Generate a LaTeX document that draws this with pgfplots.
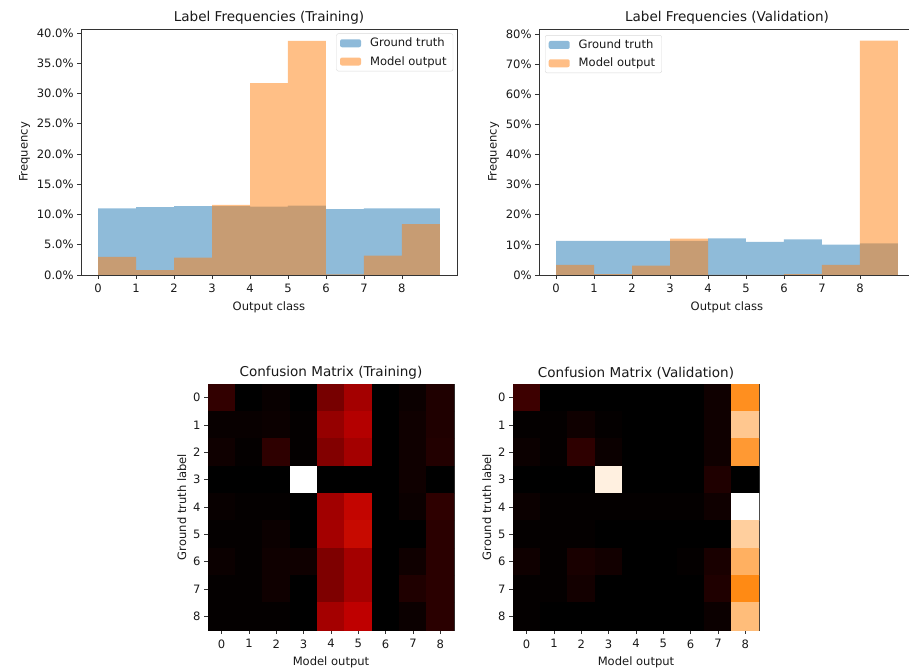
\documentclass[border=0pt]{standalone}
\usepackage{pgfplots}
\pgfplotsset{compat=1.18}
\usepackage{fontspec}
\setmainfont{DejaVu Sans}
\definecolor{cblue}{RGB}{31,119,180}
\definecolor{corange}{RGB}{255,127,14}
\newcommand{\smallfont}{\fontsize{11.6}{13}\selectfont}
\newcommand{\titlefont}{\fontsize{13.6}{15}\selectfont}
\pgfplotsset{
  colormap={gistheat}{rgb(0bp)=(0,0,0); rgb(6bp)=(0.75,0,0); rgb(8bp)=(1,0.3333,0); rgb(9bp)=(1,0.5,0); rgb(12bp)=(1,1,1)},
  mpl/.style={
    scale only axis,
    /pgf/number format/assume math mode=true,
    tick align=outside,
    major tick length=3.9bp,
    tick style={black!80, line width=0.8bp},
    axis line style={black!80, line width=0.8bp},
    xtick pos=bottom, ytick pos=left,
    ticklabel style={font=\smallfont, text=black!90},
    xticklabel style={yshift=-2bp},
    label style={font=\smallfont, text=black!90},
    xlabel style={yshift=-1.5bp},
    title style={font=\titlefont, text=black!90, yshift=-5bp},
    legend style={font=\smallfont, text=black!90, draw=black!15, rounded corners=2bp,
      inner xsep=3.5bp, inner ysep=3.5bp, row sep=6bp,
      nodes={inner xsep=3bp, inner ysep=1bp},
      /tikz/every odd column/.append style={column sep=6bp}},
    legend cell align=left,
    legend image code/.code={\fill[##1] (0bp,-4bp) rectangle (21bp,4bp);},
  },
}
\begin{document}
\begin{tikzpicture}
\path[use as bounding box] (0,0) rectangle (909bp,671bp);
\clip (0,0) rectangle (909bp,671bp);

% ---------- Training histogram ----------
\begin{axis}[mpl, at={(81bp,396bp)}, anchor=south west, width=376bp, height=246bp,
  xmin=-0.45, xmax=9.45, ymin=0, ymax=40.65,
  xtick={0,...,8}, ytick={0,5,...,40},
  yticklabels={0.0\%,5.0\%,10.0\%,15.0\%,20.0\%,25.0\%,30.0\%,35.0\%,40.0\%},
  title={Label Frequencies (Training)}, xlabel={Output class}, ylabel={Frequency},
  legend style={at={(0.99,0.982)}, anchor=north east}]
\addplot[ybar interval, fill=cblue, fill opacity=0.5, draw=none] coordinates {
 (0,11.0) (1,11.2) (2,11.4) (3,11.4) (4,11.3) (5,11.45) (6,10.9) (7,11.0) (8,11.0) (9,11.0)};
\addlegendentry{Ground truth}
\addplot[ybar interval, fill=corange, fill opacity=0.5, draw=none] coordinates {
 (0,3.0) (1,0.8) (2,2.85) (3,11.6) (4,31.7) (5,38.7) (6,0.1) (7,3.2) (8,8.4) (9,8.4)};
\addlegendentry{Model output}
\end{axis}

% ---------- Validation histogram ----------
\begin{axis}[mpl, at={(539bp,396bp)}, anchor=south west, width=376bp, height=246bp,
  xmin=-0.45, xmax=9.45, ymin=0, ymax=81.7,
  xtick={0,...,8}, ytick={0,10,...,80},
  yticklabels={0\%,10\%,20\%,30\%,40\%,50\%,60\%,70\%,80\%},
  title={Label Frequencies (Validation)}, xlabel={Output class}, ylabel={Frequency},
  legend style={at={(0.016,0.975)}, anchor=north west}]
\addplot[ybar interval, fill=cblue, fill opacity=0.5, draw=none] coordinates {
 (0,11.3) (1,11.3) (2,11.3) (3,11.3) (4,12.2) (5,11.0) (6,11.8) (7,10.1) (8,10.5) (9,10.5)};
\addlegendentry{Ground truth}
\addplot[ybar interval, fill=corange, fill opacity=0.5, draw=none] coordinates {
 (0,3.4) (1,0.3) (2,3.1) (3,12.1) (4,0) (5,0) (6,0.3) (7,3.4) (8,77.8) (9,77.8)};
\addlegendentry{Model output}
\end{axis}

% ---------- Confusion matrix (Training) ----------
\begin{axis}[mpl, at={(208bp,41bp)}, anchor=south west, width=246bp, height=246bp,
  enlargelimits=false, xmin=-0.5, xmax=8.5, ymin=-0.5, ymax=8.5, y dir=reverse,
  xtick={0,...,8}, ytick={0,...,8},
  colormap name=gistheat, point meta min=0, point meta max=1,
  title={Confusion Matrix (Training)}, xlabel={Model output}, ylabel={Ground truth label}]
\addplot[matrix plot*, mesh/cols=9, point meta=explicit, draw=none] table[meta=c] {
x y c
0 0 0.13
1 0 0.00
2 0 0.02
3 0 0.00
4 0 0.31
5 0 0.43
6 0 0.00
7 0 0.03
8 0 0.08
0 1 0.02
1 1 0.02
2 1 0.03
3 1 0.01
4 1 0.39
5 1 0.47
6 1 0.00
7 1 0.04
8 1 0.08
0 2 0.04
1 2 0.01
2 2 0.12
3 2 0.01
4 2 0.34
5 2 0.43
6 2 0.00
7 2 0.04
8 2 0.09
0 3 0.00
1 3 0.00
2 3 0.00
3 3 1.00
4 3 0.00
5 3 0.00
6 3 0.00
7 3 0.04
8 3 0.00
0 4 0.02
1 4 0.01
2 4 0.01
3 4 0.00
4 4 0.42
5 4 0.51
6 4 0.00
7 4 0.03
8 4 0.12
0 5 0.01
1 5 0.01
2 5 0.03
3 5 0.00
4 5 0.43
5 5 0.52
6 5 0.00
7 5 0.00
8 5 0.11
0 6 0.03
1 6 0.01
2 6 0.04
3 6 0.04
4 6 0.33
5 6 0.43
6 6 0.00
7 6 0.04
8 6 0.11
0 7 0.01
1 7 0.01
2 7 0.04
3 7 0.00
4 7 0.33
5 7 0.43
6 7 0.00
7 7 0.08
8 7 0.11
0 8 0.01
1 8 0.01
2 8 0.01
3 8 0.00
4 8 0.43
5 8 0.50
6 8 0.00
7 8 0.03
8 8 0.11
};
\end{axis}

% ---------- Confusion matrix (Validation) ----------
\begin{axis}[mpl, at={(513bp,41bp)}, anchor=south west, width=246bp, height=246bp,
  enlargelimits=false, xmin=-0.5, xmax=8.5, ymin=-0.5, ymax=8.5, y dir=reverse,
  xtick={0,...,8}, ytick={0,...,8},
  colormap name=gistheat, point meta min=0, point meta max=1,
  title={Confusion Matrix (Validation)}, xlabel={Model output}, ylabel={Ground truth label}]
\addplot[matrix plot*, mesh/cols=9, point meta=explicit, draw=none] table[meta=c] {
x y c
0 0 0.16
1 0 0.00
2 0 0.00
3 0 0.00
4 0 0.00
5 0 0.00
6 0 0.00
7 0 0.04
8 0 0.78
0 1 0.01
1 1 0.01
2 1 0.04
3 1 0.01
4 1 0.00
5 1 0.00
6 1 0.00
7 1 0.04
8 1 0.89
0 2 0.03
1 2 0.01
2 2 0.12
3 2 0.03
4 2 0.00
5 2 0.00
6 2 0.00
7 2 0.04
8 2 0.80
0 3 0.00
1 3 0.00
2 3 0.00
3 3 0.97
4 3 0.00
5 3 0.00
6 3 0.00
7 3 0.08
8 3 0.00
0 4 0.03
1 4 0.01
2 4 0.01
3 4 0.01
4 4 0.01
5 4 0.01
6 4 0.01
7 4 0.04
8 4 1.00
0 5 0.01
1 5 0.01
2 5 0.01
3 5 0.00
4 5 0.00
5 5 0.00
6 5 0.00
7 5 0.00
8 5 0.905
0 6 0.04
1 6 0.01
2 6 0.065
3 6 0.047
4 6 0.00
5 6 0.00
6 6 0.01
7 6 0.065
8 6 0.845
0 7 0.01
1 7 0.01
2 7 0.05
3 7 0.00
4 7 0.00
5 7 0.00
6 7 0.00
7 7 0.08
8 7 0.77
0 8 0.01
1 8 0.00
2 8 0.00
3 8 0.00
4 8 0.00
5 8 0.00
6 8 0.00
7 8 0.03
8 8 0.87
};
\end{axis}
\end{tikzpicture}
\end{document}
